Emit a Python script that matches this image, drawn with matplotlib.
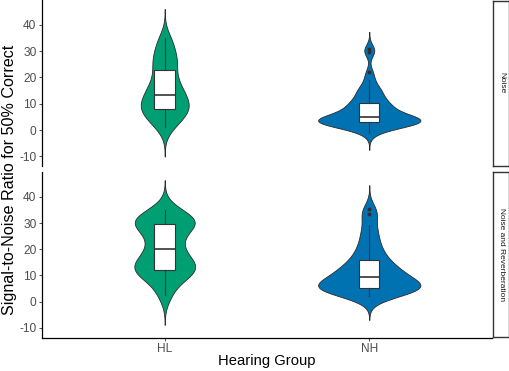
import numpy as np
import matplotlib
matplotlib.use("Agg")
from matplotlib import pyplot as plt

plt.rcParams["font.family"] = ["Liberation Sans", "DejaVu Sans"]
plt.rcParams["axes.unicode_minus"] = False

# SNR (dB) for 50% correct, per listener
groups = ["HL", "NH"]
conditions = ["Noise", "Noise and Reverberation"]
colors = {"HL": "#009E73", "NH": "#0072B2"}

hl_noise = [1, 3, 5, 6, 7, 8, 9, 10, 11, 12, 13.5, 15, 16, 18, 20, 23, 25, 27,
            29, 32, 35]
nh_noise = [-1, 0.5, 1.3, 1.8, 2.1, 2.3, 2.5, 2.6, 2.8, 2.9, 3.0,
            3.2, 3.4, 3.6, 3.8, 4.0, 4.2, 4.4, 4.6, 4.8, 5.0,
            5.4, 5.9, 6.5, 7.1, 7.8, 8.4, 9.0, 9.5, 9.9, 10.3,
            11.5, 12.5, 13.5, 14.5, 15.5, 16.5, 19, 21.9, 29.7, 30.8]
hl_reverb = [2.5, 7, 10, 11, 11.5, 12, 14, 15, 16, 17, 20, 22, 24, 27, 29,
             29.5, 30, 31, 32, 33, 35]
nh_reverb = [2.3, 3, 3.6, 4, 4.4, 4.7, 4.9, 5.1, 5.3, 5.6, 6, 6.4, 6.9, 7.4, 8,
             8.6, 9.35, 10, 10.7, 11.4, 12, 12.8, 13.6, 14.8, 16, 17.5, 19, 21,
             23.5, 26, 29.2, 33.3, 35.2]

data = {
    "Noise": {"HL": hl_noise, "NH": nh_noise},
    "Noise and Reverberation": {"HL": hl_reverb, "NH": nh_reverb},
}

# kernel bandwidths (dB), judged from how far the violin tails run
bandwidth = {
    "Noise": {"HL": 3.7, "NH": 2.2},
    "Noise and Reverberation": {"HL": 3.8, "NH": 3.1},
}

yticks = [-10, 0, 10, 20, 30, 40]


def kde(x, bw):
    x = np.asarray(x, float)
    grid = np.linspace(x.min() - 3 * bw, x.max() + 3 * bw, 512)
    dens = np.exp(-0.5 * ((grid[:, None] - x[None, :]) / bw) ** 2).sum(axis=1)
    dens /= len(x) * bw * np.sqrt(2 * np.pi)
    return grid, dens


fig = plt.figure(figsize=(5.10, 3.71), dpi=100)
W, H = 510, 371
panels = [(0, 166), (172, 337.5)]
strips = [(0.5, 165.7), (171.7, 336.7)]

for i, cond in enumerate(conditions):
    top, bot = panels[i]
    ax = fig.add_axes([42 / W, 1 - bot / H, 450 / W, (bot - top) / H])
    curves = {g: kde(data[cond][g], bandwidth[cond][g]) for g in groups}
    dmax = max(d.max() for _, d in curves.values())
    for j, g in enumerate(groups):
        pos = j + 1
        y, d = curves[g]
        w = d / dmax * 0.25
        ax.fill_betweenx(y, pos - w, pos + w, facecolor=colors[g],
                         edgecolor="#2b2b2b", linewidth=0.6, zorder=2)
        ax.boxplot([data[cond][g]], positions=[pos], widths=0.1,
                   patch_artist=True, whis=1.5, manage_ticks=False,
                   boxprops=dict(facecolor="white", edgecolor="#333333", linewidth=0.8),
                   medianprops=dict(color="#333333", linewidth=1.2),
                   whiskerprops=dict(color="#333333", linewidth=0.8),
                   capprops=dict(linewidth=0),
                   flierprops=dict(marker="o", markersize=2.8,
                                   markerfacecolor="#3a2a24",
                                   markeredgecolor="none"),
                   zorder=3)
    ax.set_xlim(0.4, 2.6)
    ax.set_ylim(-13.7, 49.5)
    ax.set_yticks(yticks)
    ax.set_yticklabels([str(t) for t in yticks])
    for s in ["top", "right"]:
        ax.spines[s].set_visible(False)
    ax.spines["left"].set_linewidth(0.9)
    ax.spines["bottom"].set_linewidth(0.9)
    ax.tick_params(axis="both", labelsize=8.6, colors="#333333", length=2.5,
                   width=0.6, labelcolor="#4d4d4d", pad=1.5)
    if i == 0:
        ax.spines["bottom"].set_visible(False)
        ax.set_xticks([])
    else:
        ax.set_xticks([1, 2])
        ax.set_xticklabels(groups)
        ax.set_xlabel("Hearing Group", fontsize=10.6, labelpad=-1)

    st, sb = strips[i]
    sax = fig.add_axes([493.3 / W, 1 - sb / H, 16.2 / W, (sb - st) / H])
    sax.set_xticks([])
    sax.set_yticks([])
    for sp in sax.spines.values():
        sp.set_linewidth(1.0)
        sp.set_color("#333333")
    sax.text(0.5, 0.5, cond, rotation=-90, ha="center", va="center",
             fontsize=6, color="#1a1a1a", transform=sax.transAxes)

fig.text(10 / W, 1 - 180 / H, "Signal-to-Noise Ratio for 50% Correct",
         rotation=90, ha="center", va="center", fontsize=11.6)

fig.savefig("out.png", dpi=100)
plt.close(fig)
